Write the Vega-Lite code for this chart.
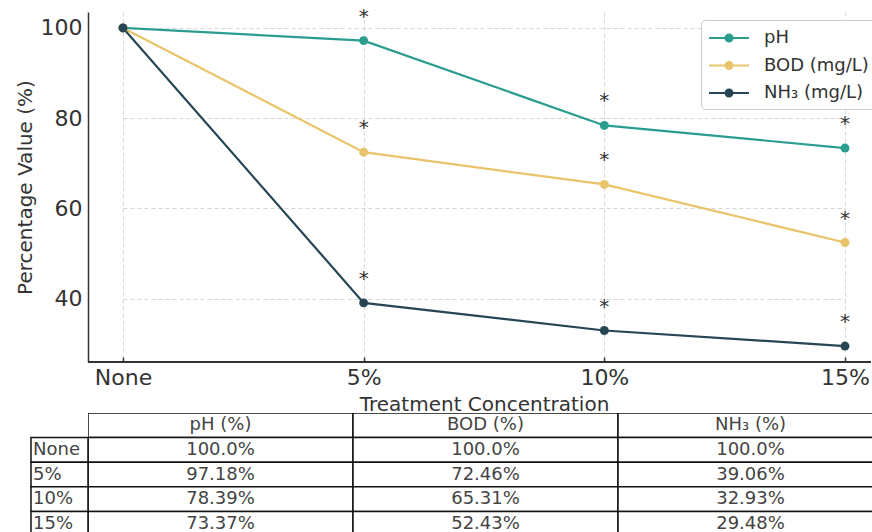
{
  "$schema": "https://vega.github.io/schema/vega-lite/v6.json",
  "background": "white",
  "padding": {"left": 15, "top": -7, "right": 0, "bottom": 0},
  "bounds": "flush",
  "spacing": 51,
  "config": {
    "font": "DejaVu Sans",
    "view": {"stroke": null}
  },
  "datasets": {
    "series": [
      {"concentration": "None", "series": "pH", "value": 100, "sig": ""},
      {"concentration": "5%", "series": "pH", "value": 97.18, "sig": "*"},
      {"concentration": "10%", "series": "pH", "value": 78.39, "sig": "*"},
      {"concentration": "15%", "series": "pH", "value": 73.37, "sig": "*"},
      {"concentration": "None", "series": "BOD (mg/L)", "value": 100, "sig": ""},
      {"concentration": "5%", "series": "BOD (mg/L)", "value": 72.46, "sig": "*"},
      {"concentration": "10%", "series": "BOD (mg/L)", "value": 65.31, "sig": "*"},
      {"concentration": "15%", "series": "BOD (mg/L)", "value": 52.43, "sig": "*"},
      {"concentration": "None", "series": "NH₃ (mg/L)", "value": 100, "sig": ""},
      {"concentration": "5%", "series": "NH₃ (mg/L)", "value": 39.06, "sig": "*"},
      {"concentration": "10%", "series": "NH₃ (mg/L)", "value": 32.93, "sig": "*"},
      {"concentration": "15%", "series": "NH₃ (mg/L)", "value": 29.48, "sig": "*"}
    ],
    "table": [
      {"row": "header", "col": "pH (%)", "text": "pH (%)"},
      {"row": "header", "col": "BOD (%)", "text": "BOD (%)"},
      {"row": "header", "col": "NH₃ (%)", "text": "NH₃ (%)"},
      {"row": "None", "col": "pH (%)", "text": "100.0%"},
      {"row": "None", "col": "BOD (%)", "text": "100.0%"},
      {"row": "None", "col": "NH₃ (%)", "text": "100.0%"},
      {"row": "5%", "col": "pH (%)", "text": "97.18%"},
      {"row": "5%", "col": "BOD (%)", "text": "72.46%"},
      {"row": "5%", "col": "NH₃ (%)", "text": "39.06%"},
      {"row": "10%", "col": "pH (%)", "text": "78.39%"},
      {"row": "10%", "col": "BOD (%)", "text": "65.31%"},
      {"row": "10%", "col": "NH₃ (%)", "text": "32.93%"},
      {"row": "15%", "col": "pH (%)", "text": "73.37%"},
      {"row": "15%", "col": "BOD (%)", "text": "52.43%"},
      {"row": "15%", "col": "NH₃ (%)", "text": "29.48%"}
    ],
    "rowlabels": [
      {"row": "None"},
      {"row": "5%"},
      {"row": "10%"},
      {"row": "15%"}
    ]
  },
  "vconcat": [
    {
      "width": 783,
      "height": 350,
      "data": {"name": "series"},
      "encoding": {
        "y": {
          "field": "value",
          "type": "quantitative",
          "scale": {"domain": [25.95, 103.53], "nice": false, "zero": false},
          "axis": {
            "title": "Percentage Value (%)",
            "titleFontSize": 20,
            "titleFontWeight": "normal",
            "titleColor": "#333",
            "titlePadding": 5,
            "values": [40, 60, 80, 100],
            "labelFontSize": 22,
            "labelColor": "#333",
            "labelPadding": 6,
            "ticks": false,
            "domainColor": "#333",
            "domainWidth": 1.5,
            "grid": true,
            "gridColor": "#cccccc",
            "gridDash": [4, 3],
            "gridWidth": 0.8
          }
        },
        "color": {
          "field": "series",
          "type": "nominal",
          "scale": {
            "domain": ["pH", "BOD (mg/L)", "NH₃ (mg/L)"],
            "range": ["#2a9d8f", "#e9c46a", "#264653"]
          },
          "legend": {
            "title": null,
            "orient": "none",
            "legendX": 613,
            "legendY": 8,
            "labelFontSize": 18,
            "labelColor": "#333",
            "symbolType": "M-2,0H2M-0.35,0A0.35,0.35,0,1,1,0.35,0A0.35,0.35,0,1,1,-0.35,0Z",
            "symbolSize": 400,
            "symbolStrokeWidth": 2,
            "symbolOffset": 10,
            "rowPadding": 7.5,
            "labelOffset": 24,
            "strokeColor": "#cccccc",
            "fillColor": "white",
            "cornerRadius": 4,
            "padding": 7,
            "encode": {
              "symbols": {
                "update": {
                  "fill": {"scale": "color", "field": "value"},
                  "stroke": {"scale": "color", "field": "value"},
                  "opacity": {"value": 1}
                }
              }
            }
          }
        }
      },
      "layer": [
        {
          "mark": {"type": "rule", "color": "#333", "strokeWidth": 1.5},
          "encoding": {"y": {"datum": 25.95}, "color": {"value": "#333"}}
        },
        {
          "mark": {"type": "line", "strokeWidth": 2.2},
          "encoding": {
            "x": {
              "field": "concentration",
              "type": "ordinal",
              "sort": ["None", "5%", "10%", "15%"],
              "scale": {"type": "point", "range": [35, 757], "padding": 0},
              "axis": {
                "title": "Treatment Concentration",
                "titleFontSize": 20,
                "titleFontWeight": "normal",
                "titleColor": "#333",
                "titlePadding": 6,
                "labelFontSize": 22,
                "labelColor": "#333",
                "labelAngle": 0,
                "labelPadding": 10,
                "ticks": true,
                "tickSize": -5,
                "tickColor": "#333",
                "tickWidth": 1.5,
                "domain": false,
                "grid": true,
                "gridColor": "#cccccc",
                "gridDash": [4, 3],
                "gridWidth": 0.8
              }
            }
          }
        },
        {
          "mark": {"type": "point", "filled": true, "size": 80, "opacity": 1},
          "encoding": {
            "x": {"field": "concentration", "type": "ordinal", "sort": ["None", "5%", "10%", "15%"]}
          }
        },
        {
          "mark": {"type": "text", "dy": -18, "fontSize": 20, "baseline": "alphabetic"},
          "encoding": {
            "x": {"field": "concentration", "type": "ordinal", "sort": ["None", "5%", "10%", "15%"]},
            "text": {"field": "sig"},
            "color": {"value": "#333333"}
          }
        }
      ]
    },
    {
      "width": 784,
      "height": 123,
      "layer": [
        {
          "data": {"name": "table"},
          "mark": {"type": "rect", "fill": "white", "stroke": "#111", "strokeWidth": 1.5, "clip": true},
          "encoding": {
            "x": {"field": "col", "type": "nominal", "sort": ["pH (%)", "BOD (%)", "NH₃ (%)"], "scale": {"range": [0, 795], "paddingInner": 0, "paddingOuter": 0}, "axis": null},
            "y": {"field": "row", "type": "nominal", "sort": ["header", "None", "5%", "10%", "15%"], "scale": {"paddingInner": 0, "paddingOuter": 0}, "axis": null}
          }
        },
        {
          "data": {"name": "table"},
          "mark": {"type": "text", "fontSize": 18, "color": "#444", "align": "center", "baseline": "middle"},
          "encoding": {
            "x": {"field": "col", "type": "nominal", "sort": ["pH (%)", "BOD (%)", "NH₃ (%)"]},
            "y": {"field": "row", "type": "nominal", "sort": ["header", "None", "5%", "10%", "15%"]},
            "text": {"field": "text"}
          }
        },
        {
          "data": {"name": "rowlabels"},
          "mark": {"type": "rect", "fill": "white", "stroke": "#111", "strokeWidth": 1.5, "xOffset": -57},
          "encoding": {
            "x": {"datum": "pH (%)", "type": "nominal", "bandPosition": 0},
            "x2": {"datum": "pH (%)", "bandPosition": 0},
            "y": {"field": "row", "type": "nominal", "sort": ["header", "None", "5%", "10%", "15%"]}
          }
        },
        {
          "data": {"name": "rowlabels"},
          "mark": {"type": "text", "fontSize": 18, "color": "#444", "align": "left", "baseline": "middle", "dx": -55},
          "encoding": {
            "x": {"datum": "pH (%)", "type": "nominal", "bandPosition": 0},
            "y": {"field": "row", "type": "nominal", "sort": ["header", "None", "5%", "10%", "15%"]},
            "text": {"field": "row"}
          }
        }
      ]
    }
  ]
}
